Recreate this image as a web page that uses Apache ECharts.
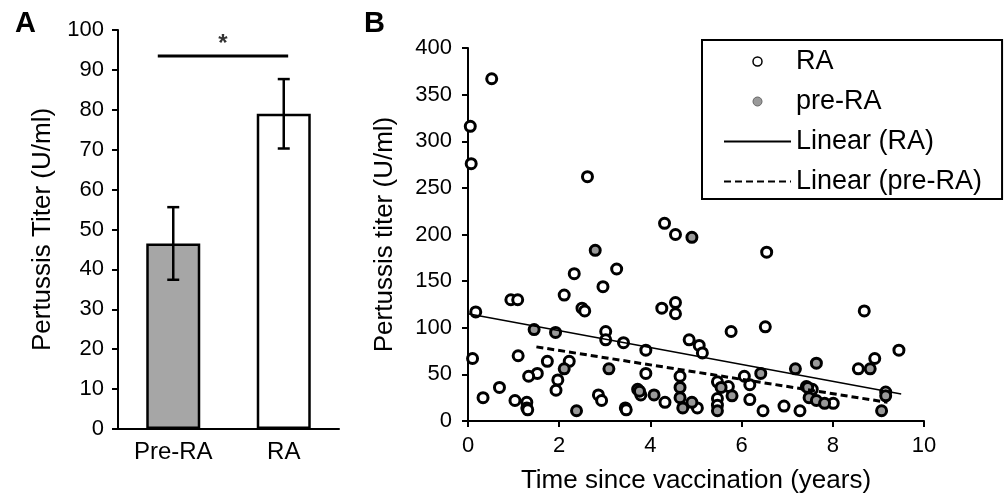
<!DOCTYPE html>
<html>
<head>
<meta charset="utf-8">
<script src="https://cdn.jsdelivr.net/npm/echarts@6/dist/echarts.min.js"></script>
<style>
html, body { margin: 0; padding: 0; background: #fff; }
#main { width: 1006px; height: 499px; }
</style>
</head>
<body>
<div id="main"></div>
<script>
// panel A: mean titer per group with error bars
var groups = ['Pre-RA', 'RA'];
var titerMean = [46.5, 79];
var titerErr = [9.1, 8.7];
var sigSpan = [-0.14, 1.04];
var sigLevel = 93.5;

// panel B: [years since vaccination, titer U/ml]
var raPoints = [
	[0.05, 316], [0.07, 276], [0.52, 367], [2.62, 262], [4.31, 212], [4.55, 200],
	[3.26, 163], [2.33, 158], [2.96, 144], [2.11, 135], [0.94, 130], [1.09, 130],
	[2.50, 121], [2.56, 118], [4.25, 121], [0.17, 117], [4.55, 127], [4.55, 115],
	[6.55, 181], [3.02, 96], [3.02, 87], [3.41, 84], [3.90, 76], [4.85, 87],
	[5.07, 81], [5.14, 73], [5.77, 96], [6.52, 101], [8.69, 118], [9.45, 76],
	[8.92, 67], [8.56, 56], [0.10, 67], [1.10, 70], [1.74, 64], [2.22, 64],
	[1.52, 51], [1.33, 48], [1.97, 44], [1.93, 33], [0.69, 36], [0.33, 25],
	[1.03, 22], [1.29, 20], [1.29, 14], [1.31, 12], [2.86, 28], [2.93, 22],
	[3.90, 51], [4.65, 48], [3.72, 34], [3.79, 28], [4.32, 20], [3.45, 14],
	[3.47, 12], [5.47, 42], [5.71, 37], [5.47, 24], [5.47, 17], [5.03, 14],
	[6.06, 48], [6.18, 39], [6.18, 23], [6.47, 11], [6.93, 16], [7.28, 11],
	[8.01, 19], [7.42, 37], [7.55, 34], [9.16, 31]
];
var preRaPoints = [
	[4.91, 197], [2.79, 183], [1.45, 98], [1.92, 95], [2.11, 56], [3.09, 56],
	[2.38, 11], [4.08, 28], [3.76, 32], [4.65, 36], [4.65, 25], [4.71, 14],
	[4.91, 20], [5.55, 36], [5.79, 27], [5.47, 11], [6.42, 51], [7.18, 56],
	[7.64, 62], [8.82, 56], [7.48, 25], [7.64, 22], [7.82, 19], [9.16, 27],
	[9.07, 11], [7.45, 36]
];
var raTrend = [[0, 115], [9.5, 29]];
var preRaTrend = [[1.5, 79.5], [9.2, 20]];

var font = "'Liberation Sans', Arial, sans-serif";
var axisLineStyle = { color: '#000', width: 2 };
var tickStyle = { color: '#000', width: 2 };
var tickLabel = { color: '#000', fontSize: 22, fontFamily: font };
var nameStyle = { fontSize: 26, color: '#000', fontFamily: font };
var hideSymbol = { color: 'rgba(0,0,0,0)', borderWidth: 0 };

var chart = echarts.init(document.getElementById('main'));

chart.setOption({
	animation: false,
	backgroundColor: '#fff',
	title: [
		{ text: 'A', left: 10, top: 4, textStyle: { fontSize: 29, fontWeight: 'bold', color: '#000', fontFamily: font } },
		{ text: 'B', left: 359, top: 4, textStyle: { fontSize: 29, fontWeight: 'bold', color: '#000', fontFamily: font } }
	],
	legend: {
		data: [
			{ name: 'RA', itemStyle: { borderWidth: 1.5 } },
			{ name: 'pre-RA', itemStyle: { borderWidth: 1, borderColor: '#666' } },
			{ name: 'Linear (RA)', itemStyle: hideSymbol },
			{ name: 'Linear (pre-RA)', itemStyle: hideSymbol }
		],
		orient: 'vertical',
		left: 702,
		top: 40,
		padding: [8, 20, 4, 21],
		itemWidth: 67,
		itemHeight: 9,
		itemGap: 13,
		borderColor: '#000',
		borderWidth: 2,
		selectedMode: false,
		textStyle: { fontSize: 27, color: '#000', fontFamily: font }
	},
	grid: [
		{ left: 118, top: 30, width: 221, height: 399 },
		{ left: 468, top: 48, width: 456, height: 378 }
	],
	xAxis: [
		{
			type: 'category', gridIndex: 0, data: groups,
			axisLine: { lineStyle: axisLineStyle },
			axisTick: { alignWithLabel: true, length: 6, lineStyle: tickStyle },
			axisLabel: { margin: 11, fontSize: 24, color: '#000', fontFamily: font }
		},
		{ type: 'value', gridIndex: 0, min: -0.5, max: 1.5, show: false },
		{
			type: 'value', gridIndex: 1, min: 0, max: 10, interval: 2,
			name: 'Time since vaccination (years)', nameLocation: 'middle', nameGap: 47,
			nameTextStyle: nameStyle,
			axisLine: { onZero: false, lineStyle: axisLineStyle },
			axisTick: { length: 6, lineStyle: tickStyle },
			axisLabel: Object.assign({ margin: 14 }, tickLabel),
			splitLine: { show: false }
		}
	],
	yAxis: [
		{
			type: 'value', gridIndex: 0, min: 0, max: 100, interval: 10,
			name: 'Pertussis Titer (U/ml)', nameLocation: 'middle', nameGap: 62,
			nameTextStyle: nameStyle,
			axisLine: { show: true, onZero: false, lineStyle: axisLineStyle },
			axisTick: { show: true, length: 6, lineStyle: tickStyle },
			axisLabel: Object.assign({ margin: 14 }, tickLabel),
			splitLine: { show: false }
		},
		{
			type: 'value', gridIndex: 1, min: 0, max: 400, interval: 50,
			name: 'Pertussis titer (U/ml)', nameLocation: 'middle', nameGap: 70,
			nameTextStyle: nameStyle,
			axisLine: { show: true, onZero: false, lineStyle: axisLineStyle },
			axisTick: { show: true, length: 6, lineStyle: tickStyle },
			axisLabel: Object.assign({ margin: 16 }, tickLabel),
			splitLine: { show: false }
		}
	],
	series: [
		{
			type: 'bar', xAxisIndex: 0, yAxisIndex: 0, barWidth: 54,
			data: titerMean.map(function(v, i) {
				return { value: v, itemStyle: { color: i === 0 ? '#a6a6a6' : '#fff' } };
			}),
			itemStyle: { borderColor: '#000', borderWidth: 2.5 }
		},
		{
			type: 'custom', xAxisIndex: 0, yAxisIndex: 0, z: 10,
			data: titerMean.map(function(v, i) { return [i, v - titerErr[i], v + titerErr[i]]; }),
			renderItem: function(params, api) {
				var lo = api.coord([api.value(0), api.value(1)]),
					hi = api.coord([api.value(0), api.value(2)]),
					w = 6,
					st = { stroke: '#000', lineWidth: 2.5 };
				return {
					type: 'group',
					children: [
						{ type: 'line', shape: { x1: lo[0], y1: lo[1], x2: hi[0], y2: hi[1] }, style: st },
						{ type: 'line', shape: { x1: lo[0] - w, y1: lo[1], x2: lo[0] + w, y2: lo[1] }, style: st },
						{ type: 'line', shape: { x1: hi[0] - w, y1: hi[1], x2: hi[0] + w, y2: hi[1] }, style: st }
					]
				};
			}
		},
		{
			type: 'line', xAxisIndex: 1, yAxisIndex: 0, symbol: 'none',
			data: [[sigSpan[0], sigLevel], [sigSpan[1], sigLevel]],
			lineStyle: { color: '#000', width: 3 }
		},
		{
			type: 'scatter', xAxisIndex: 1, yAxisIndex: 0, symbolSize: 0,
			data: [[(sigSpan[0] + sigSpan[1]) / 2, sigLevel]],
			label: { show: true, position: 'top', distance: 0, formatter: '*', fontSize: 24, fontWeight: 'bold', color: '#000', fontFamily: font }
		},
		{
			name: 'RA', type: 'scatter', xAxisIndex: 2, yAxisIndex: 1,
			data: raPoints, symbolSize: 10,
			itemStyle: { color: '#fff', borderColor: '#000', borderWidth: 3, opacity: 1 }
		},
		{
			name: 'pre-RA', type: 'scatter', xAxisIndex: 2, yAxisIndex: 1,
			data: preRaPoints, symbolSize: 10,
			itemStyle: { color: '#999', borderColor: '#000', borderWidth: 3, opacity: 1 }
		},
		{
			name: 'Linear (RA)', type: 'line', xAxisIndex: 2, yAxisIndex: 1,
			data: raTrend, symbol: 'none', z: 3,
			lineStyle: { color: '#000', width: 1.5 }, itemStyle: { color: '#000' }
		},
		{
			name: 'Linear (pre-RA)', type: 'line', xAxisIndex: 2, yAxisIndex: 1,
			data: preRaTrend, symbol: 'none', z: 3,
			lineStyle: { color: '#000', width: 3, type: [7, 4] }, itemStyle: { color: '#000' }
		}
	]
});
</script>
</body>
</html>
